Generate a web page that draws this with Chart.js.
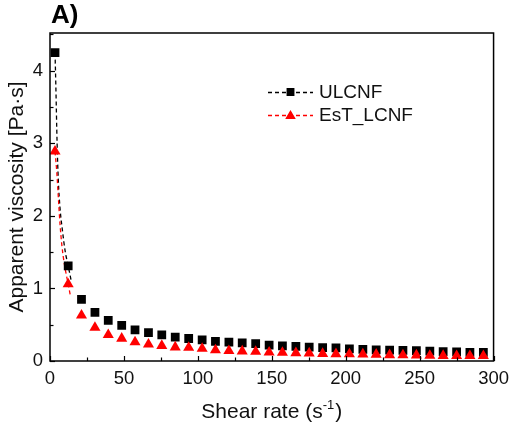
<!DOCTYPE html>
<html>
<head>
<meta charset="utf-8">
<script src="https://cdn.jsdelivr.net/npm/chart.js@4/dist/chart.umd.min.js"></script>
<style>
html,body{margin:0;padding:0;background:#fff;}
#c{display:block;}
</style>
</head>
<body>
<canvas id="c" width="516" height="424"></canvas>
<script>
// ---- data ----
const shearRate = [3.4, 12.3, 21.3, 30.4, 39.4, 48.5, 57.5, 66.6, 75.6, 84.7, 93.8, 102.9, 111.9, 121.0, 130.0, 139.1, 148.2, 157.2, 166.3, 175.3, 184.4, 193.4, 202.5, 211.6, 220.6, 229.7, 238.7, 247.8, 256.9, 265.9, 275.0, 284.0, 293.1];
const ulcnf = [4.25, 1.31, 0.85, 0.67, 0.56, 0.49, 0.43, 0.39, 0.36, 0.33, 0.31, 0.29, 0.27, 0.26, 0.25, 0.24, 0.22, 0.21, 0.20, 0.19, 0.185, 0.18, 0.167, 0.16, 0.153, 0.15, 0.148, 0.143, 0.135, 0.13, 0.125, 0.12, 0.12];
const estLcnf = [2.89, 1.06, 0.63, 0.46, 0.36, 0.31, 0.26, 0.23, 0.21, 0.19, 0.185, 0.17, 0.15, 0.14, 0.135, 0.13, 0.12, 0.115, 0.11, 0.107, 0.10, 0.097, 0.095, 0.093, 0.09, 0.083, 0.082, 0.08, 0.074, 0.073, 0.07, 0.07, 0.07];
// dashed connecting curves
const ulcnfCurveX = [3.4, 4.0, 4.8, 5.6, 6.8, 8.4, 10.2, 12.3, 14.4];
const ulcnfCurveY = [4.25, 3.75, 3.0, 2.5, 2.1, 1.8, 1.52, 1.31, 1.1];
const estCurveX = [3.4, 4.6, 5.8, 6.8, 8.0, 9.6, 12.3, 13.8];
const estCurveY = [2.89, 2.6, 2.2, 1.88, 1.6, 1.35, 1.06, 0.9];
// axes
const xTicks = [0, 50, 100, 150, 200, 250, 300];
const xMinorTicks = [25, 75, 125, 175, 225, 275];
const yTicks = [0, 1, 2, 3, 4];
const yMinorTicks = [0.5, 1.5, 2.5, 3.5, 4.5];
const seriesNames = ['ULCNF', 'EsT_LCNF'];
const panelLabel = 'A)';
const xTitleMain = 'Shear rate (s';
const xTitleSup = '-1';
const xTitleEnd = ')';
const yTitle = 'Apparent viscosity [Pa\u00b7s]';

const FONT = '"Liberation Sans", Arial, sans-serif';
const toXY = (xs, ys) => xs.map((v, i) => ({x: v, y: ys[i]}));

const decor = {
  id: 'decor',
  afterDraw(chart) {
    const {ctx, chartArea: a, scales: {x, y}} = chart;
    ctx.save();
    // frame
    ctx.strokeStyle = '#000';
    ctx.lineWidth = 1.5;
    ctx.strokeRect(a.left, a.top, a.right - a.left, a.bottom - a.top);
    // inward ticks
    ctx.lineWidth = 1.2;
    const tick = (x1, y1, x2, y2) => { ctx.beginPath(); ctx.moveTo(x1, y1); ctx.lineTo(x2, y2); ctx.stroke(); };
    xTicks.forEach(v => { const p = Math.round(x.getPixelForValue(v)) + 0.5; tick(p, a.bottom, p, a.bottom - 5); });
    xMinorTicks.forEach(v => { const p = Math.round(x.getPixelForValue(v)) + 0.5; tick(p, a.bottom, p, a.bottom - 3.5); });
    yTicks.forEach(v => { const p = Math.round(y.getPixelForValue(v)) + 0.5; tick(a.left, p, a.left + 5, p); });
    yMinorTicks.forEach(v => { const p = Math.round(y.getPixelForValue(v)) + 0.5; tick(a.left, p, a.left + 3.5, p); });

    // panel label
    ctx.fillStyle = '#000';
    ctx.font = 'bold 26px ' + FONT;
    ctx.textAlign = 'left';
    ctx.textBaseline = 'alphabetic';
    ctx.fillText(panelLabel, 51, 23);

    // x title with superscript
    ctx.fillStyle = '#111';
    const mainF = '21px ' + FONT, supF = '13px ' + FONT;
    ctx.font = mainF; const w1 = ctx.measureText(xTitleMain).width; const w3 = ctx.measureText(xTitleEnd).width;
    ctx.font = supF; const w2 = ctx.measureText(xTitleSup).width;
    const total = w1 + w2 + 1 + w3;
    let sx = (a.left + a.right) / 2 - total / 2;
    const base = 418;
    ctx.font = mainF; ctx.fillText(xTitleMain, sx, base); sx += w1;
    ctx.font = supF; ctx.fillText(xTitleSup, sx, base - 9); sx += w2 + 1;
    ctx.font = mainF; ctx.fillText(xTitleEnd, sx, base);

    // legend
    const ds = chart.data.datasets;
    const rows = [{ds: ds[0], y: 92}, {ds: ds[1], y: 115}];
    rows.forEach((r, i) => {
      ctx.save();
      ctx.strokeStyle = r.ds.borderColor;
      ctx.lineWidth = 1.3;
      ctx.setLineDash([4, 3]);
      ctx.beginPath(); ctx.moveTo(268, r.y + 0.5); ctx.lineTo(313, r.y + 0.5); ctx.stroke();
      ctx.setLineDash([]);
      Chart.helpers.drawPoint(ctx, {pointStyle: r.ds.pointStyle, radius: r.ds.pointRadius * 0.75, borderWidth: 1}, 290.5, r.y + (r.ds.pointStyle === 'triangle' ? 1 : 0));
      ctx.fillStyle = r.ds.backgroundColor;
      ctx.fill();
      ctx.restore();
      ctx.fillStyle = '#111';
      ctx.font = '19px ' + FONT;
      ctx.textBaseline = 'middle';
      ctx.fillText(seriesNames[i], 319, r.y + 1);
    });
    ctx.restore();
  }
};

new Chart(document.getElementById('c'), {
  type: 'scatter',
  data: {
    datasets: [
      {label: seriesNames[0], data: toXY(shearRate, ulcnf), pointStyle: 'rect', pointRadius: 6.2, pointHoverRadius: 6.2,
       backgroundColor: '#000', borderColor: '#000', borderWidth: 0, showLine: false, order: 1},
      {label: seriesNames[1], data: toXY(shearRate, estLcnf), pointStyle: 'triangle', pointRadius: 6.4, pointHoverRadius: 6.4,
       backgroundColor: '#ff0000', borderColor: '#ff0000', borderWidth: 0, showLine: false, order: 0},
      {label: 'ULCNF line', data: toXY(ulcnfCurveX, ulcnfCurveY), showLine: true, pointRadius: 0, borderColor: '#000',
       borderWidth: 1.3, borderDash: [4, 3], cubicInterpolationMode: 'monotone', fill: false, order: 3},
      {label: 'EsT_LCNF line', data: toXY(estCurveX, estCurveY), showLine: true, pointRadius: 0, borderColor: '#ff0000',
       borderWidth: 1.3, borderDash: [4, 3], cubicInterpolationMode: 'monotone', fill: false, order: 2}
    ]
  },
  options: {
    responsive: false,
    animation: false,
    devicePixelRatio: 1,
    layout: {padding: {left: 0, right: 19, top: 33, bottom: 0}},
    plugins: {legend: {display: false}, tooltip: {enabled: false}, title: {display: false}},
    scales: {
      x: {
        type: 'linear', min: 0, max: 300,
        grid: {display: false, drawTicks: false}, border: {display: false},
        afterBuildTicks: s => { s.ticks = xTicks.map(v => ({value: v})); },
        afterFit: s => { s.height = 63; },
        ticks: {padding: 7, color: '#111', font: {family: FONT, size: 18.5}, maxRotation: 0, autoSkip: false}
      },
      y: {
        type: 'linear', min: 0, max: 4.52,
        grid: {display: false, drawTicks: false}, border: {display: false},
        afterBuildTicks: s => { s.ticks = yTicks.map(v => ({value: v})); },
        afterFit: s => { s.width = 50; },
        ticks: {padding: 7, color: '#111', font: {family: FONT, size: 18.5}},
        title: {display: true, text: yTitle, color: '#111', font: {family: FONT, size: 21}, padding: {top: 5, bottom: 0}}
      }
    }
  },
  plugins: [decor]
});
</script>
</body>
</html>
